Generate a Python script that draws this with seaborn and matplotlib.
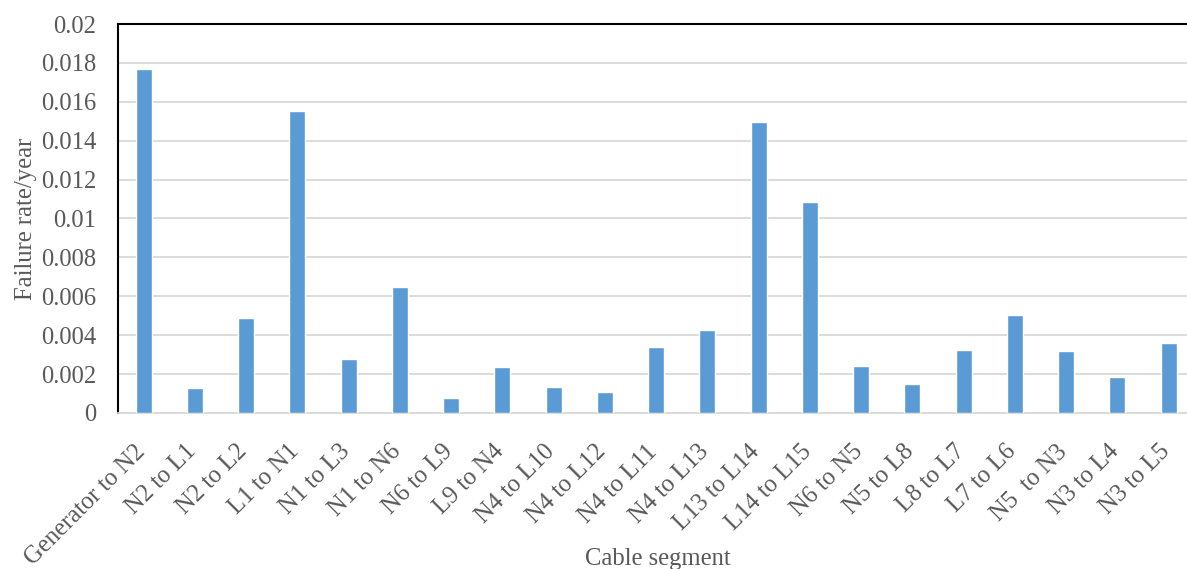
import matplotlib
matplotlib.use("Agg")
import matplotlib.pyplot as plt
import matplotlib.transforms as mtransforms
import seaborn as sns
import pandas as pd

segments = [
    "Generator to N2", "N2 to L1", "N2 to L2", "L1 to N1", "N1 to L3", "N1 to N6",
    "N6 to L9", "L9 to N4", "N4 to L10", "N4 to L12", "N4 to L11", "N4 to L13",
    "L13 to L14", "L14 to L15", "N6 to N5", "N5 to L8", "L8 to L7", "L7 to L6",
    "N5  to N3", "N3 to L4", "N3 to L5",
]
failure_rate = [
    0.0177, 0.0013, 0.0049, 0.01555, 0.0028, 0.00646,
    0.00076, 0.00237, 0.00134, 0.00106, 0.00338, 0.00427,
    0.01496, 0.01083, 0.0024, 0.00147, 0.00326, 0.00502,
    0.0032, 0.00183, 0.00362,
]
y_ticks = [0, 0.002, 0.004, 0.006, 0.008, 0.01, 0.012, 0.014, 0.016, 0.018, 0.02]
y_tick_labels = ["0", "0.002", "0.004", "0.006", "0.008", "0.01", "0.012",
                 "0.014", "0.016", "0.018", "0.02"]

df = pd.DataFrame({"segment": segments, "rate": failure_rate})

sns.set_style("white")
plt.rcParams["font.family"] = ["Liberation Serif", "DejaVu Serif"]
text_color = "#595959"
fs = 17.7

fig = plt.figure(figsize=(11.87, 5.69), dpi=100)
ax = fig.add_axes([0.0994, 0.2742, 0.9045, 0.6836])

sns.barplot(data=df, x="segment", y="rate", color="#5B9BD5", saturation=1,
            width=0.31, ax=ax, zorder=3)

ax.set_ylim(0, 0.02)
ax.set_xlim(-0.5, 20.45)
ax.set_yticks(y_ticks)
ax.set_yticklabels(y_tick_labels)
ax.yaxis.grid(True, color="#d9d9d9", linewidth=1.3, zorder=0)
ax.set_axisbelow(True)

ax.tick_params(axis="both", length=0, colors=text_color, labelsize=fs)
ax.tick_params(axis="y", pad=15.5)

# rotated category labels, nudged down so their ends sit under the bars
shift = mtransforms.ScaledTranslation(-1.5 / 72, -22 / 72, fig.dpi_scale_trans)
for lbl in ax.get_xticklabels():
    lbl.set_rotation(45)
    lbl.set_ha("right")
    lbl.set_va("center")
    lbl.set_rotation_mode("anchor")
    lbl.set_transform(lbl.get_transform() + shift)

ax.set_xlabel("Cable segment", fontsize=fs, color=text_color, va="top")
ax.xaxis.set_label_coords(0.503, -0.347)
ax.set_ylabel("Failure rate/year", fontsize=fs, color=text_color, va="center")
ax.yaxis.set_label_coords(-0.086, 0.5)

ax.spines["left"].set_color("black")
ax.spines["left"].set_linewidth(1.5)
ax.spines["top"].set_color("black")
ax.spines["top"].set_linewidth(1.5)
ax.spines["right"].set_visible(False)
ax.spines["bottom"].set_color("#d9d9d9")
ax.spines["bottom"].set_linewidth(1.3)

fig.savefig("out.png", dpi=100)
